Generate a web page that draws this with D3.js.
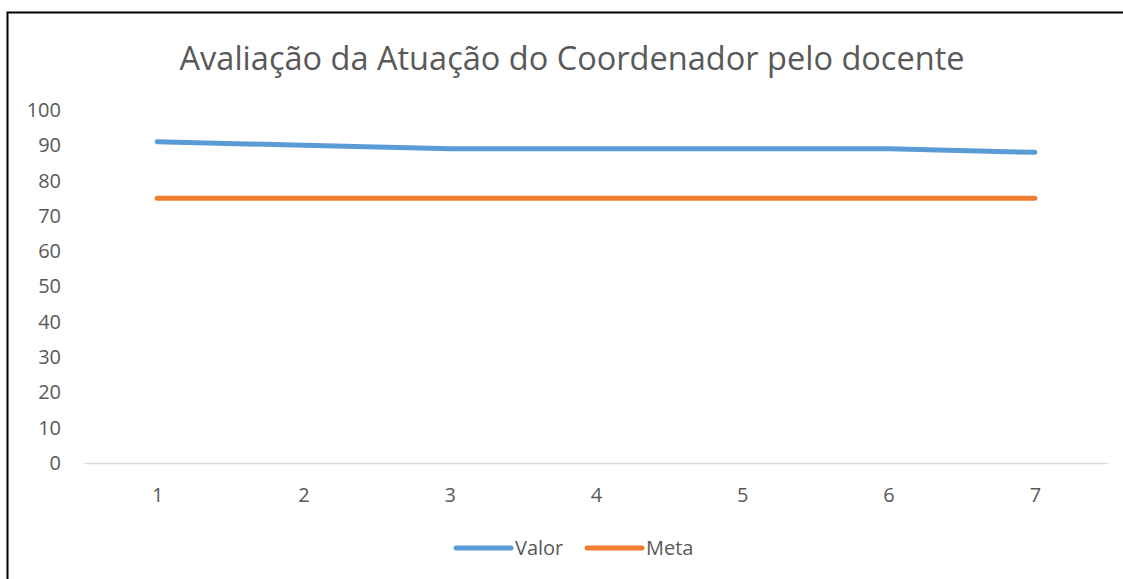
<!DOCTYPE html>
<html>
<head>
<meta charset="utf-8">
<script src="https://cdn.jsdelivr.net/npm/d3@7"></script>
<style>
  body { margin: 0; background: #fff; }
  text { font-family: "Open Sans", "DejaVu Sans", sans-serif; fill: #595959; }
</style>
</head>
<body>
<svg id="chart" width="1123" height="579"></svg>
<script>
const width = 1123;
const height = 579;

// data
const categories = [1, 2, 3, 4, 5, 6, 7];
const valor = [91, 90, 89, 89, 89, 89, 88];
const meta = [75, 75, 75, 75, 75, 75, 75];
const yTicks = [0, 10, 20, 30, 40, 50, 60, 70, 80, 90, 100];
const title = "Avaliação da Atuação do Coordenador pelo docente";

const plotLeft = 84;
const plotRight = 1108;
const plotTop = 110;
const plotBottom = 463;

const svg = d3.select("#chart");

// frame (only top and left edges are visible in the picture)
svg.append("path")
    .attr("d", "M7.5,579 L7.5,12.5 L1123,12.5")
    .attr("fill", "none")
    .attr("stroke", "#000")
    .attr("stroke-width", 2);

const xScale = d3.scalePoint()
    .domain(categories)
    .range([plotLeft, plotRight])
    .padding(0.5);

const yScale = d3.scaleLinear()
    .domain([0, 100])
    .range([plotBottom, plotTop]);

// title
svg.append("text")
    .attr("x", 572)
    .attr("y", 70)
    .attr("text-anchor", "middle")
    .attr("font-size", 33)
    .attr("textLength", 785)
    .attr("lengthAdjust", "spacingAndGlyphs")
    .text(title);

// y axis labels
const yAxis = svg.append("g")
    .attr("transform", `translate(${plotLeft - 23},0)`)
    .call(d3.axisLeft(yScale).tickValues(yTicks).tickSize(0).tickPadding(0));
yAxis.select(".domain").remove();
yAxis.selectAll("text")
    .attr("font-size", 20)
    .attr("fill", "#595959")
    .attr("font-family", "Open Sans");

// x axis
const xAxis = svg.append("g")
    .attr("transform", `translate(0,${plotBottom})`)
    .call(d3.axisBottom(xScale).tickSize(0).tickPadding(25));
xAxis.select(".domain")
    .attr("stroke", "#d9d9d9")
    .attr("stroke-width", 1.5);
xAxis.selectAll("text")
    .attr("font-size", 20)
    .attr("fill", "#595959")
    .attr("font-family", "Open Sans");

const line = d3.line()
    .x((d, i) => xScale(categories[i]))
    .y((d) => yScale(d));

const series = [
    { name: "Valor", values: valor, color: "#5B9BD5" },
    { name: "Meta", values: meta, color: "#ED7D31" }
];

svg.selectAll(".series")
    .data(series)
    .join("path")
    .attr("class", "series")
    .attr("d", (s) => line(s.values))
    .attr("fill", "none")
    .attr("stroke", (s) => s.color)
    .attr("stroke-width", 5)
    .attr("stroke-linecap", "round")
    .attr("stroke-linejoin", "round");

// legend
const legendX = [456, 587];
const legend = svg.selectAll(".legend")
    .data(series)
    .join("g")
    .attr("class", "legend")
    .attr("transform", (s, i) => `translate(${legendX[i]},548)`);
legend.append("line")
    .attr("x1", 0).attr("x2", 55)
    .attr("stroke", (s) => s.color)
    .attr("stroke-width", 5)
    .attr("stroke-linecap", "round");
legend.append("text")
    .attr("x", 59)
    .attr("dy", "0.35em")
    .attr("font-size", 20)
    .text((s) => s.name);
</script>
</body>
</html>
